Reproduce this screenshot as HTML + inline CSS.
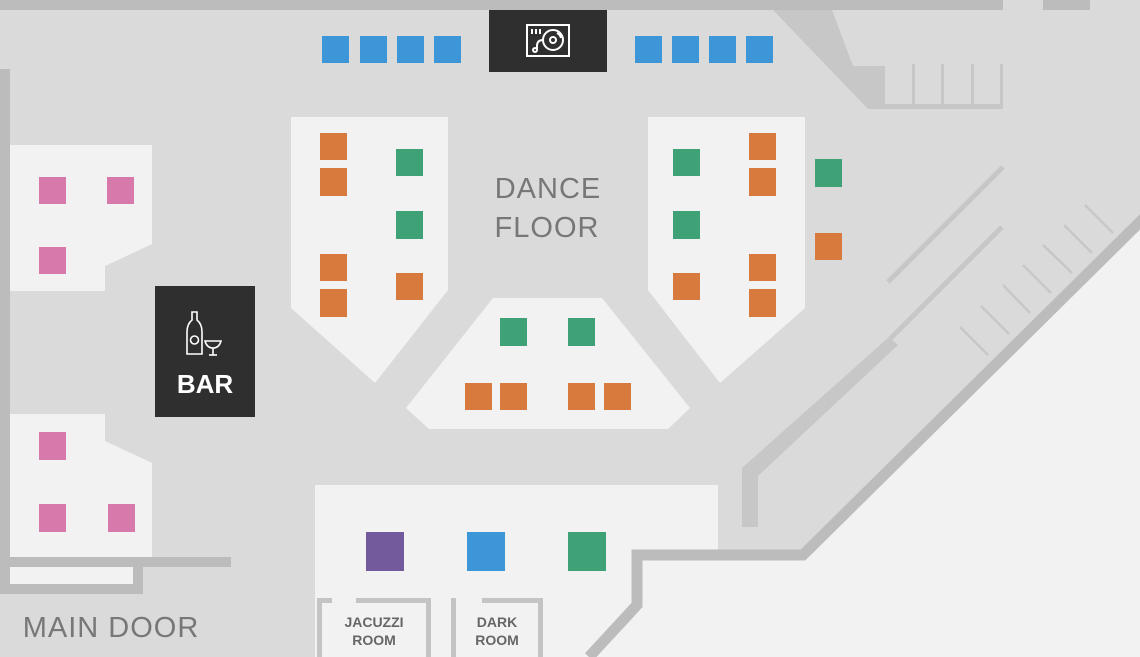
<!DOCTYPE html>
<html><head><meta charset="utf-8"><style>
html,body{margin:0;padding:0;width:1140px;height:657px;overflow:hidden;background:#dadada}
svg{display:block}
text{font-family:"Liberation Sans",sans-serif}
</style></head><body>
<svg width="1140" height="657" viewBox="0 0 1140 657" xmlns="http://www.w3.org/2000/svg">
<rect width="1140" height="657" fill="#dadada"/>
<rect x="0" y="0" width="1003" height="10" fill="#bcbcbc"/>
<rect x="1043" y="0" width="47" height="10" fill="#bcbcbc"/>
<rect x="0" y="69" width="10" height="525" fill="#bcbcbc"/>
<polygon points="773,10 832,10 853,66 885,66 885,109 868,109" fill="#c8c7c8"/>
<rect x="868" y="104" width="135" height="5" fill="#c8c7c8"/>
<rect x="912" y="64" width="3" height="42" fill="#c8c7c8"/>
<rect x="941" y="64" width="3" height="42" fill="#c8c7c8"/>
<rect x="971" y="64" width="3" height="42" fill="#c8c7c8"/>
<rect x="1000" y="64" width="3" height="42" fill="#c8c7c8"/>
<polygon points="1140,228 1140,657 585,657 632,605 632,550 803,550" fill="#f2f2f2"/>
<!-- bottom room (under walls) -->
<rect x="315" y="485" width="403" height="172" fill="#f2f2f2"/>
<polyline points="1150,212 803,555 637,555 637,605 589,657" fill="none" stroke="#bcbcbc" stroke-width="11"/>
<line x1="888" y1="282" x2="1003" y2="167" stroke="#c8c7c8" stroke-width="5"/>
<line x1="1002" y1="227" x2="889" y2="340" stroke="#c8c7c8" stroke-width="5"/>
<polygon points="889,337 898,345 758,476 758,527 742,527 742,468" fill="#c8c7c8"/>
<g stroke="#c8c7c8" stroke-width="2.5">
<line x1="1113" y1="233" x2="1085" y2="205"/>
<line x1="1092" y1="253" x2="1064" y2="225"/>
<line x1="1072" y1="273" x2="1043" y2="245"/>
<line x1="1051" y1="293" x2="1023" y2="265"/>
<line x1="1030" y1="313" x2="1003" y2="285"/>
<line x1="1009" y1="334" x2="981" y2="306"/>
<line x1="988" y1="355" x2="960" y2="327"/>
</g>
<rect x="489" y="10" width="118" height="62" fill="#2f2f2f"/>
<g fill="none" stroke="#fff" stroke-width="2">
<rect x="527" y="25" width="42" height="31"/>
<circle cx="553" cy="40" r="10"/>
<circle cx="553" cy="40" r="3"/>
<path d="M557 33 a8 8 0 0 1 4 5"/>
<path d="M543 40 q-6 0 -6 6 l0 3"/>
<circle cx="535" cy="50" r="2"/>
</g>
<rect x="531" y="29" width="2" height="5" fill="#fff"/><rect x="535" y="29" width="2" height="5" fill="#fff"/><rect x="539" y="29" width="2" height="5" fill="#fff"/>
<g fill="#3d96d8">
<rect x="322" y="36" width="27" height="27"/><rect x="360" y="36" width="27" height="27"/><rect x="397" y="36" width="27" height="27"/><rect x="434" y="36" width="27" height="27"/>
<rect x="635" y="36" width="27" height="27"/><rect x="672" y="36" width="27" height="27"/><rect x="709" y="36" width="27" height="27"/><rect x="746" y="36" width="27" height="27"/>
</g>
<polygon points="10,145 152,145 152,244 105,266 105,291 10,291" fill="#f2f2f2"/>
<polygon points="10,414 105,414 105,441 152,463 152,557 10,557" fill="#f2f2f2"/>
<rect x="0" y="557" width="231" height="10" fill="#bcbcbc"/>
<rect x="10" y="567" width="133" height="17" fill="#f2f2f2"/>
<rect x="133" y="567" width="10" height="27" fill="#bcbcbc"/>
<rect x="0" y="584" width="143" height="10" fill="#bcbcbc"/>
<g fill="#d779aa">
<rect x="39" y="177" width="27" height="27"/><rect x="107" y="177" width="27" height="27"/><rect x="39" y="247" width="27" height="27"/>
<rect x="39" y="432" width="27" height="28"/><rect x="39" y="504" width="27" height="28"/><rect x="108" y="504" width="27" height="28"/>
</g>
<rect x="155" y="286" width="100" height="131" fill="#2f2f2f"/>
<g fill="none" stroke="#fff" stroke-width="1.6">
<path d="M192 312 h5 v8 q5 4 5 12 v22 h-15 v-22 q0 -8 5 -12 z"/>
<circle cx="194.5" cy="340" r="4"/>
<path d="M205 341 h16 q-2 7 -8 7 q-6 0 -8 -7 z"/>
<line x1="213" y1="348" x2="213" y2="355"/>
<line x1="209" y1="355" x2="217" y2="355"/>
</g>
<text x="205" y="393" font-size="26" font-weight="bold" fill="#fff" text-anchor="middle">BAR</text>
<polygon points="291,117 448,117 448,290 375,383 291,308" fill="#f2f2f2"/>
<polygon points="648,117 805,117 805,308 720,383 648,290" fill="#f2f2f2"/>
<polygon points="493,298 602,298 690,408 668,429 429,429 406,408" fill="#f2f2f2"/>
<g fill="#d87a3e">
<rect x="320" y="133" width="27" height="27"/><rect x="320" y="168" width="27" height="28"/><rect x="320" y="254" width="27" height="27"/><rect x="320" y="289" width="27" height="28"/>
<rect x="396" y="273" width="27" height="27"/>
<rect x="673" y="273" width="27" height="27"/>
<rect x="749" y="133" width="27" height="27"/><rect x="749" y="168" width="27" height="28"/><rect x="749" y="254" width="27" height="27"/><rect x="749" y="289" width="27" height="28"/>
<rect x="815" y="233" width="27" height="27"/>
<rect x="465" y="383" width="27" height="27"/><rect x="500" y="383" width="27" height="27"/><rect x="568" y="383" width="27" height="27"/><rect x="604" y="383" width="27" height="27"/>
</g>
<g fill="#3fa277">
<rect x="396" y="149" width="27" height="27"/><rect x="396" y="211" width="27" height="28"/>
<rect x="673" y="149" width="27" height="27"/><rect x="673" y="211" width="27" height="28"/>
<rect x="815" y="159" width="27" height="28"/>
<rect x="500" y="318" width="27" height="28"/><rect x="568" y="318" width="27" height="28"/>
</g>
<text x="548" y="198" font-size="29" fill="#777" text-anchor="middle" letter-spacing="1">DANCE</text>
<text x="547" y="237" font-size="29" fill="#777" text-anchor="middle" letter-spacing="1">FLOOR</text>
<rect x="366" y="532" width="38" height="39" fill="#735a9d"/>
<rect x="467" y="532" width="38" height="39" fill="#3d96d8"/>
<rect x="568" y="532" width="38" height="39" fill="#3fa277"/>
<g fill="#c4c4c4">
<rect x="317" y="598" width="5" height="59"/><rect x="317" y="598" width="15" height="5"/><rect x="356" y="598" width="75" height="5"/><rect x="426" y="598" width="5" height="59"/>
<rect x="451" y="598" width="5" height="59"/><rect x="482" y="598" width="61" height="5"/><rect x="538" y="598" width="5" height="59"/>
</g>
<g font-size="14" font-weight="bold" fill="#666" text-anchor="middle">
<text x="374" y="627">JACUZZI</text><text x="374" y="645">ROOM</text>
<text x="497" y="627">DARK</text><text x="497" y="645">ROOM</text>
</g>
<text x="111" y="637" font-size="29" fill="#777" text-anchor="middle" letter-spacing="1">MAIN DOOR</text>
</svg>
</body></html>
